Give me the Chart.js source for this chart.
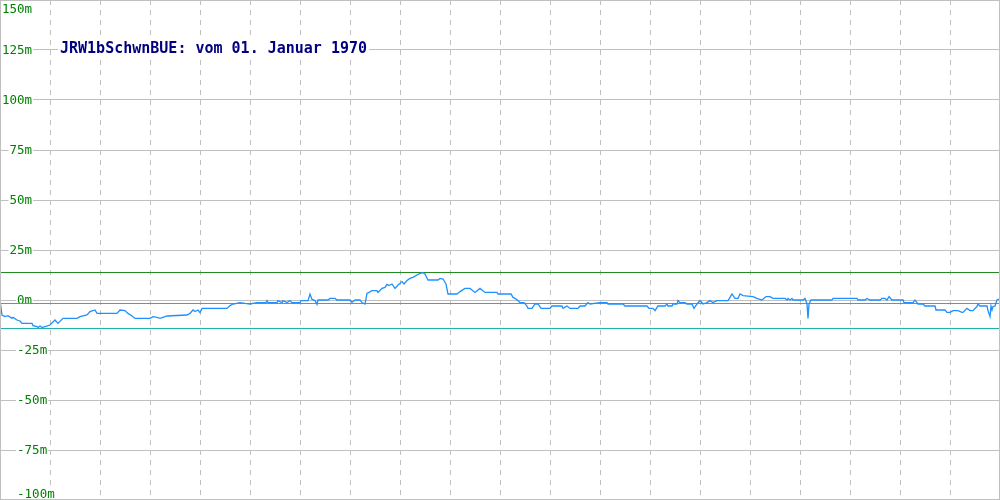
<!DOCTYPE html>
<html>
<head>
<meta charset="utf-8">
<script src="https://cdn.jsdelivr.net/npm/chart.js@4/dist/chart.umd.min.js"></script>
<style>
    html, body { margin: 0; padding: 0; background: #fff; }
    #wrap { width: 1000px; height: 500px; position: relative; }
</style>
</head>
<body>
<div id="wrap"><canvas id="level-chart"></canvas></div>
<script>
const chartTitle = 'JRW1bSchwnBUE: vom 01. Januar 1970';

// sample position along the day (0..1000) and level in m
const samplePos = [0, 2, 5, 8, 12, 13, 17, 20, 22, 32, 33, 37, 38, 40, 42, 45, 50, 55, 58, 63,
    77, 80, 87, 90, 95, 97, 117, 120, 125, 128, 132, 135, 150, 153, 157, 160, 163, 167, 187, 190,
    193, 195, 198, 200, 202, 227, 230, 233, 240, 245, 250, 257, 266, 267, 268, 277, 278, 282, 283, 287,
    290, 292, 300, 301, 308, 310, 312, 315, 317, 318, 328, 330, 335, 337, 350, 352, 355, 360, 362, 365,
    367, 372, 377, 378, 382, 385, 387, 389, 392, 395, 398, 402, 404, 407, 410, 413, 417, 420, 423, 425,
    428, 438, 440, 443, 446, 448, 457, 460, 465, 470, 475, 480, 485, 497, 498, 511, 513, 515, 518, 520,
    524, 527, 528, 532, 535, 538, 541, 550, 552, 562, 563, 567, 570, 578, 580, 585, 588, 590, 600, 607,
    608, 623, 625, 647, 649, 653, 655, 658, 665, 667, 668, 672, 673, 677, 678, 680, 685, 687, 692, 694,
    697, 700, 703, 707, 710, 713, 717, 728, 730, 732, 735, 738, 740, 743, 753, 757, 762, 766, 770, 773,
    785, 787, 788, 790, 792, 793, 803, 805, 807, 808, 809, 811, 832, 833, 857, 858, 865, 867, 870, 880,
    882, 885, 887, 889, 892, 903, 904, 913, 915, 917, 918, 923, 925, 935, 936, 945, 947, 950, 953, 958,
    962, 963, 967, 970, 973, 975, 977, 978, 980, 987, 988, 990, 991, 992, 993, 995, 997, 999];
const levels = [0, -7.5, -8.3, -7.8, -9.2, -8.7, -10, -10.5, -11.7, -11.7, -12.8, -13.3, -13.8, -13, -13.8, -13.3, -12.5, -10, -11.7, -9.2,
    -9.2, -8.3, -7.5, -5.8, -5, -6.7, -6.7, -5, -5.3, -6.7, -8, -9.2, -9.2, -8.3, -8.7, -9.2, -8.7, -8, -7.5, -6.7,
    -5, -5.8, -5, -6.3, -4.2, -4.2, -2.8, -2, -1.3, -1.7, -2, -1.3, -1.3, -0.3, -1.3, -1.3, -0.3, -1.3, -0.3, -1.3,
    -0.3, -1.3, -1.3, -0.3, -0.3, 3, 0.3, -0.3, -2.2, 0, 0, 0.8, 0.8, 0, 0, -1.2, 0, 0, -1.3, -2,
    3.3, 4.7, 4.7, 3.8, 5.8, 6.3, 7.8, 7.2, 8, 5.8, 7.5, 9.2, 8, 9.7, 10.8, 11.3, 12.5, 13.3, 13.7, 13,
    10, 10, 10.8, 10.5, 8, 3, 3, 4.2, 5.8, 5.8, 3.8, 5.8, 3.8, 3.8, 3, 3, 1.3, 0.8, -0.3, -1.3,
    -1.3, -3, -4.2, -4.2, -2, -2, -4.2, -4.2, -3, -3, -4.2, -3, -4.2, -4.2, -3, -3, -1.3, -2, -1.3, -1.3,
    -2, -2, -3, -3, -4.2, -4.2, -5.3, -3, -3, -2, -3, -3, -2, -2, -0.3, -1.3, -1.3, -2, -2, -4.2,
    -2, -0.3, -2, -1.3, -0.3, -1.3, -0.3, -0.3, 1.3, 3, 0.8, 0.8, 3, 2.2, 1.7, 0.8, 0, 1.7, 1.7, 0.8,
    0.8, 0, 0.8, 0, 0.8, 0, 0, 0.8, -2, -9.2, -2, 0, 0, 0.8, 0.8, 0, 0, 0.8, 0, 0,
    0.8, 0.8, 0, 1.7, 0, 0, -1.3, -1.3, 0, -1.3, -2, -2, -3, -3, -5, -5, -6.2, -6.2, -5.3, -5.3,
    -6.2, -6.2, -4.2, -5.3, -5.3, -4.2, -3.3, -2, -3, -3, -5.3, -8.3, -3, -5, -3.3, -3, 0, 0.5];

const upperLimit = 13.75;
const meanLevel = -1.75;
const lowerLimit = -14.25;

const yTicks = [150, 125, 100, 75, 50, 25, 0, -25, -50, -75, -100];

function tickText(v) {
    if (v < 0) return '  ' + v + 'm';
    return String(v).padStart(3, ' ') + 'm';
}

const labelPlugin = {
    id: 'labels',
    beforeDatasetsDraw(chart) {
        const ctx = chart.ctx;
        const y = chart.scales.y;
        ctx.save();
        ctx.font = '12.5px "DejaVu Sans Mono", monospace';
        ctx.textAlign = 'left';
        ctx.textBaseline = 'alphabetic';
        yTicks.forEach(v => {
            const txt = tickText(v);
            const lead = txt.length - txt.trimStart().length;
            const cw = ctx.measureText('0').width;
            const gy = y.getPixelForValue(v);
            const base = Math.min(Math.max(gy + 4, 13), 498);
            const x0 = 2 + lead * cw;
            const w = ctx.measureText(txt.trimStart()).width;
            ctx.fillStyle = '#ffffff';
            ctx.fillRect(x0 - 1, base - 10, w + 2, 13);
            ctx.fillStyle = '#008000';
            ctx.fillText(txt.trimStart(), x0, base);
        });

        ctx.font = 'bold 15px "DejaVu Sans Mono", monospace';
        const tw = ctx.measureText(chartTitle).width;
        ctx.fillStyle = '#ffffff';
        ctx.fillRect(58, 40, tw + 4, 15);
        ctx.fillStyle = '#000080';
        ctx.fillText(chartTitle, 60, 53);
        ctx.restore();
    },
    afterDraw(chart) {
        const ctx = chart.ctx;
        ctx.save();
        ctx.strokeStyle = '#c0c0c0';
        ctx.lineWidth = 1;
        ctx.strokeRect(0.5, 0.5, 999, 499);
        ctx.restore();
    }
};

function flatLine(v) {
    return [{ x: 0, y: v }, { x: 1000, y: v }];
}

const ctx = document.getElementById('level-chart').getContext('2d');

const levelChart = new Chart(ctx, {
    type: 'line',
    data: {
        datasets: [{
            label: 'Pegel',
            data: samplePos.map((p, i) => ({ x: p, y: levels[i] })),
            borderColor: '#1e90ff',
            borderWidth: 1.3,
            pointRadius: 0,
            tension: 0
        },
        {
            label: 'Mittel',
            data: flatLine(meanLevel),
            borderColor: '#3cb371',
            borderWidth: 1,
            pointRadius: 0
        },
        {
            label: 'Oben',
            data: flatLine(upperLimit),
            borderColor: '#228b22',
            borderWidth: 1,
            pointRadius: 0
        },
        {
            label: 'Unten',
            data: flatLine(lowerLimit),
            borderColor: '#20b2aa',
            borderWidth: 1,
            pointRadius: 0
        }]
    },
    options: {
        responsive: true,
        maintainAspectRatio: false,
        animation: false,
        layout: { padding: 0 },
        plugins: {
            legend: { display: false },
            tooltip: { enabled: false }
        },
        scales: {
            x: {
                type: 'linear',
                min: 0,
                max: 1000,
                ticks: { display: false, stepSize: 50 },
                grid: { color: '#c0c0c0', drawTicks: false },
                border: { display: false, dash: [5, 5] }
            },
            y: {
                type: 'linear',
                min: -100,
                max: 150,
                ticks: { display: false, stepSize: 25 },
                grid: { color: '#c0c0c0', drawTicks: false },
                border: { display: false }
            }
        }
    },
    plugins: [labelPlugin]
});
</script>
</body>
</html>
